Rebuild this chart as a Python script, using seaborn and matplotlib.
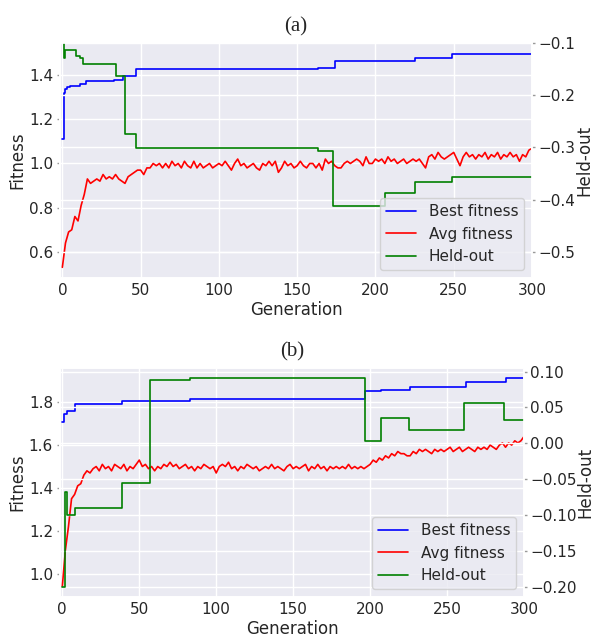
import numpy as np
import matplotlib
matplotlib.use("Agg")
import matplotlib.pyplot as plt
import seaborn as sns

# ---- (a) ----
best_a_gen = [0, 1, 2, 3, 5, 11, 15, 33, 39, 47, 163, 174, 225, 249, 300]
best_a_val = [1.11, 1.32, 1.335, 1.345, 1.35, 1.36, 1.375, 1.38, 1.397, 1.428,
              1.432, 1.462, 1.479, 1.497, 1.497]

held_a_gen = [0, 1, 2, 9, 11, 13, 34, 40, 47, 163, 173, 206, 225, 249, 300]
held_a_val = [-0.09, -0.128, -0.113, -0.125, -0.128, -0.14, -0.163, -0.275, -0.301,
              -0.306, -0.412, -0.388, -0.367, -0.356, -0.356]

# average fitness, every 2nd generation (0, 2, ..., 300)
avg_a_gen = list(range(0, 301, 2))
avg_a_val = [
    0.53, 0.64, 0.69, 0.70, 0.76, 0.74, 0.81, 0.86, 0.93, 0.91,   # 0-18
    0.92, 0.93, 0.92, 0.95, 0.93, 0.94, 0.93, 0.95, 0.93, 0.92,   # 20-38
    0.91, 0.94, 0.95, 0.96, 0.97, 0.97, 0.95, 0.98, 0.98, 1.00,   # 40-58
    0.99, 1.00, 0.98, 1.00, 0.98, 1.01, 0.99, 1.00, 0.98, 1.01,   # 60-78
    0.99, 0.98, 1.01, 0.98, 1.00, 0.98, 0.99, 1.00, 0.98, 0.99,   # 80-98
    1.00, 0.99, 1.01, 0.99, 0.97, 1.00, 1.02, 0.99, 1.00, 0.98,   # 100-118
    0.99, 1.00, 0.98, 0.97, 1.00, 0.99, 1.01, 0.99, 1.01, 0.96,   # 120-138
    0.98, 1.01, 0.99, 1.00, 0.98, 0.99, 1.01, 0.99, 0.98, 1.00,   # 140-158
    1.00, 0.98, 1.00, 0.97, 1.02, 1.00, 1.01, 0.99, 0.98, 0.98,   # 160-178
    1.00, 1.01, 1.00, 1.01, 1.02, 1.01, 0.99, 1.03, 1.00, 1.00,   # 180-198
    1.02, 1.01, 1.02, 1.00, 1.03, 1.01, 1.02, 1.00, 1.01, 1.02,   # 200-218
    1.00, 1.01, 1.02, 1.01, 1.02, 1.00, 0.98, 1.03, 1.04, 1.02,   # 220-238
    1.05, 1.03, 1.02, 1.03, 1.04, 1.05, 1.02, 0.99, 1.03, 1.05,   # 240-258
    1.03, 1.04, 1.02, 1.04, 1.03, 1.05, 1.02, 1.04, 1.03, 1.05,   # 260-278
    1.02, 1.04, 1.03, 1.05, 1.03, 1.04, 1.01, 1.04, 1.03, 1.06,   # 280-298
    1.07,                                                         # 300
]

# ---- (b) ----
best_b_gen = [0, 1, 3, 8, 39, 83, 197, 207, 226, 262, 288, 300]
best_b_val = [1.71, 1.746, 1.76, 1.79, 1.805, 1.814, 1.852, 1.858, 1.873, 1.893,
              1.911, 1.911]

held_b_gen = [0, 2, 3, 8, 39, 57, 83, 197, 207, 225, 261, 287, 300]
held_b_val = [-0.2, -0.068, -0.1, -0.091, -0.055, 0.088, 0.0904, 0.0034, 0.0348,
              0.018, 0.0559, 0.0324, 0.0324]

avg_b_gen = list(range(0, 301, 2))
avg_b_val = [
    0.94, 1.11, 1.22, 1.35, 1.37, 1.41, 1.42, 1.46, 1.48, 1.47,   # 0-18
    1.49, 1.50, 1.48, 1.51, 1.49, 1.50, 1.48, 1.51, 1.50, 1.49,   # 20-38
    1.51, 1.48, 1.50, 1.49, 1.51, 1.53, 1.50, 1.51, 1.49, 1.50,   # 40-58
    1.48, 1.50, 1.49, 1.51, 1.50, 1.52, 1.50, 1.51, 1.49, 1.50,   # 60-78
    1.51, 1.49, 1.50, 1.48, 1.50, 1.49, 1.51, 1.50, 1.49, 1.50,   # 80-98
    1.47, 1.50, 1.51, 1.50, 1.52, 1.49, 1.50, 1.48, 1.50, 1.49,   # 100-118
    1.51, 1.50, 1.49, 1.50, 1.48, 1.49, 1.50, 1.49, 1.51, 1.49,   # 120-138
    1.50, 1.49, 1.48, 1.50, 1.51, 1.49, 1.50, 1.49, 1.50, 1.51,   # 140-158
    1.48, 1.50, 1.49, 1.51, 1.49, 1.50, 1.48, 1.50, 1.49, 1.50,   # 160-178
    1.49, 1.50, 1.49, 1.51, 1.49, 1.50, 1.49, 1.50, 1.49, 1.50,   # 180-198
    1.51, 1.53, 1.52, 1.54, 1.53, 1.55, 1.54, 1.56, 1.55, 1.57,   # 200-218
    1.56, 1.56, 1.55, 1.55, 1.57, 1.56, 1.58, 1.57, 1.58, 1.57,   # 220-238
    1.56, 1.58, 1.57, 1.58, 1.57, 1.58, 1.59, 1.57, 1.58, 1.59,   # 240-258
    1.57, 1.58, 1.59, 1.58, 1.57, 1.59, 1.58, 1.59, 1.58, 1.60,   # 260-278
    1.59, 1.58, 1.60, 1.61, 1.59, 1.61, 1.60, 1.62, 1.61, 1.62,   # 280-298
    1.64,                                                         # 300
]

panels = [
    dict(title="(a)", best=(best_a_gen, best_a_val), avg=(avg_a_gen, avg_a_val),
         held=(held_a_gen, held_a_val), held_lim=(-0.55, -0.1),
         rect=[60 / 594, 1 - 278 / 640, 472 / 594, 235 / 640]),
    dict(title="(b)", best=(best_b_gen, best_b_val), avg=(avg_b_gen, avg_b_val),
         held=(held_b_gen, held_b_val), held_lim=None,
         rect=[60 / 594, 1 - 597 / 640, 464 / 594, 229 / 640]),
]

sns.set_theme(style="darkgrid")
lw = 1.2

fig = plt.figure(figsize=(5.94, 6.4), dpi=100)

for p in panels:
    ax = fig.add_axes(p["rect"])
    ax2 = ax.twinx()

    sns.lineplot(x=p["best"][0], y=p["best"][1], ax=ax, color="blue", linewidth=lw,
                 drawstyle="steps-post", label="Best fitness")
    sns.lineplot(x=p["avg"][0], y=p["avg"][1], ax=ax, color="red", linewidth=lw,
                 label="Avg fitness")
    sns.lineplot(x=p["held"][0], y=p["held"][1], ax=ax2, color="green", linewidth=lw,
                 drawstyle="steps-post", label="Held-out")

    ax.set_xlim(-1.5, 300)
    if p["held_lim"] is not None:
        ax2.set_ylim(*p["held_lim"])

    ax.set_xlabel("Generation", labelpad=2)
    ax.set_ylabel("Fitness", labelpad=2)
    ax2.set_ylabel("Held-out", labelpad=0)
    ax.set_title(p["title"], fontfamily="Liberation Serif", fontsize=15, pad=8)

    ax.tick_params(axis="x", length=0, pad=3.5)
    ax2.tick_params(axis="x", length=0, pad=3.5)
    ax.tick_params(axis="y", left=True, length=2, width=1, color=".6", pad=3)
    ax2.tick_params(axis="y", right=True, length=2, width=1, color=".6", pad=2.5)

    h1, l1 = ax.get_legend_handles_labels()
    h2, l2 = ax2.get_legend_handles_labels()
    if ax.get_legend() is not None:
        ax.get_legend().remove()
    ax2.legend(h1 + h2, l1 + l2, loc="lower right")

fig.savefig("out.png", dpi=100)
